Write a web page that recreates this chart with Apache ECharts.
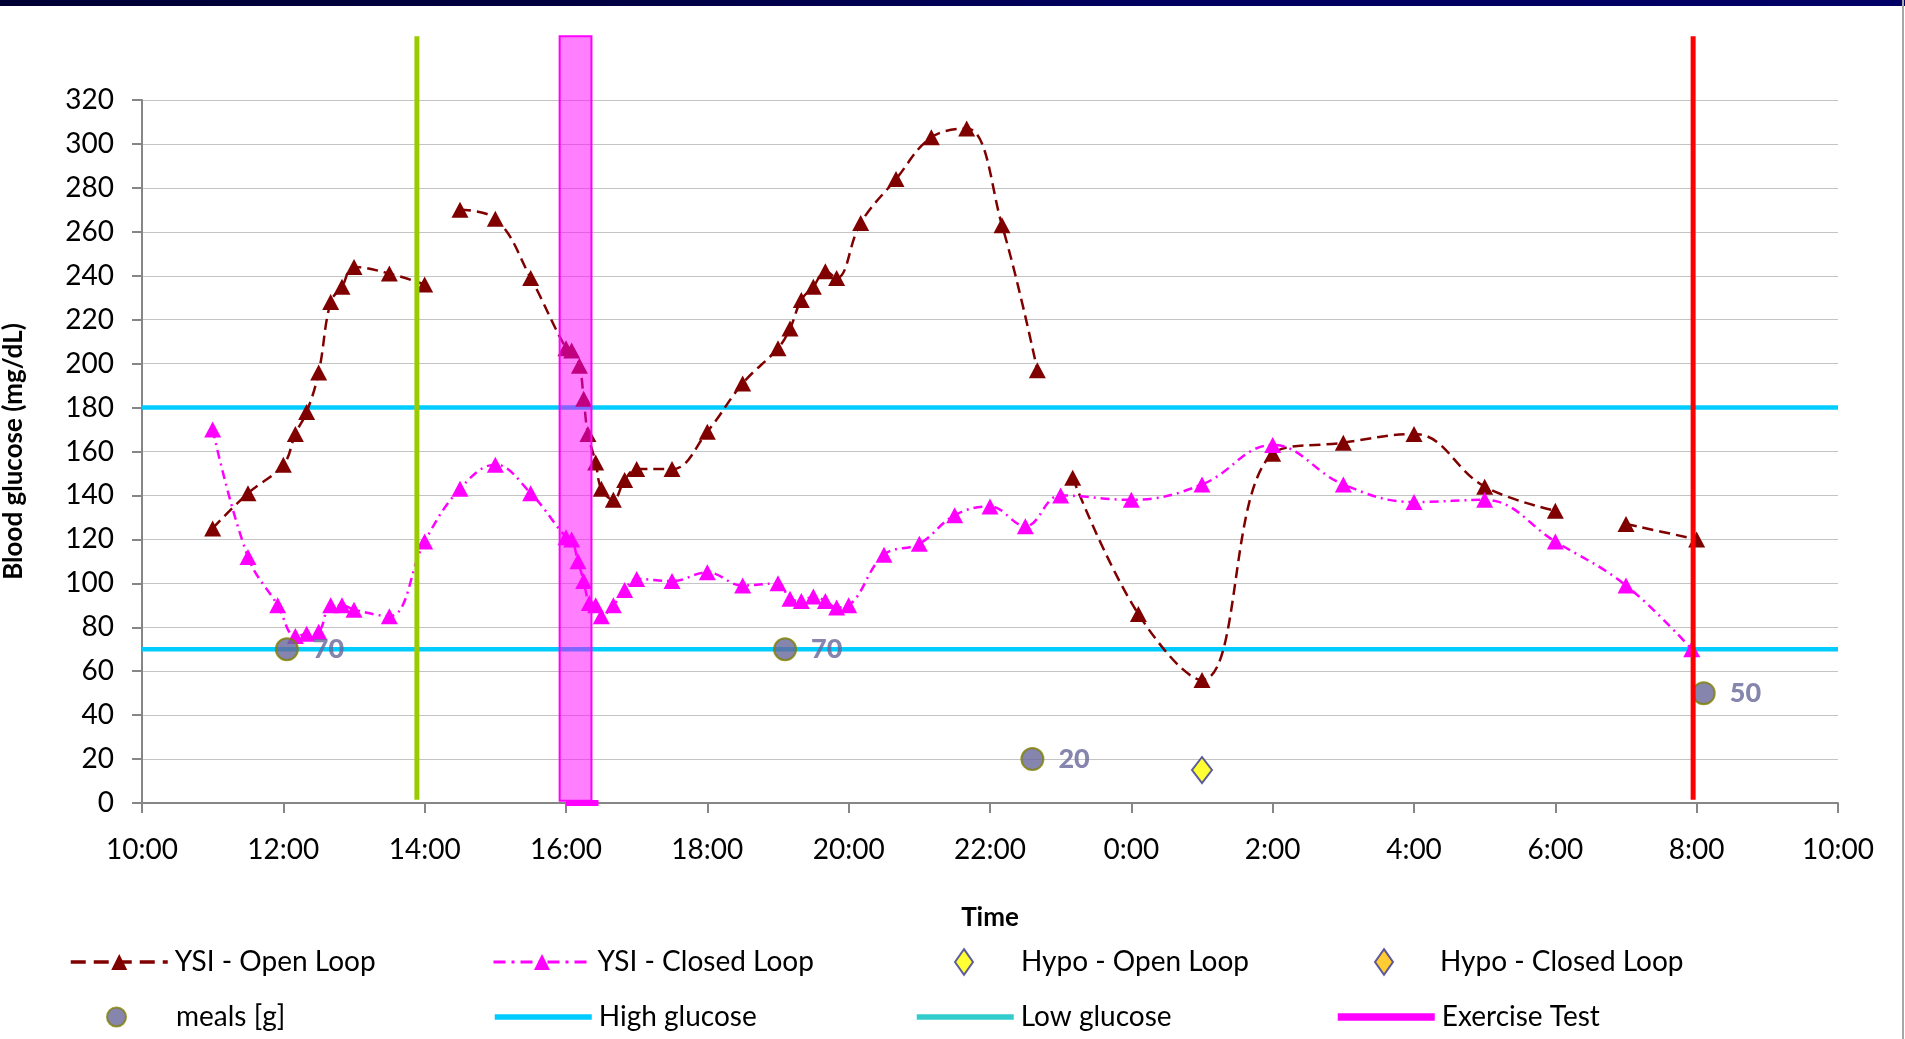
<!DOCTYPE html>
<html>
<head>
<meta charset="utf-8">
<script src="https://cdn.jsdelivr.net/npm/echarts@6/dist/echarts.min.js"></script>
<style>
html,body{margin:0;padding:0;background:#fff;}
#chart{width:1905px;height:1039px;}
</style>
</head>
<body>
<div id="chart"></div>
<script>
// ---- Data (time in hours from 10:00 day 1; 24 = 0:00, 34 = 10:00 next day) ----
const openLoopTimes = [11.0,11.5,12.0,12.17,12.33,12.5,12.67,12.83,13.0,13.5,14.0,14.25,14.5,15.0,15.5,16.0,16.08,16.19,16.25,16.31,16.42,16.5,16.67,16.83,17.0,17.5,18.0,18.5,19.0,19.17,19.33,19.5,19.67,19.83,20.17,20.67,21.17,21.67,22.17,22.67,22.9,23.17,24.1,25.0,26.0,27.0,28.0,29.0,30.0,30.5,31.0,32.0];
const openLoopValues = [125,141,154,168,178,196,228,235,244,241,236,null,270,266,239,207,206,199,184,168,155,143,138,147,152,152,169,191,207,216,229,235,242,239,264,284,303,307,263,197,null,148,86,56,159,164,168,144,133,null,127,120];

const closedLoopTimes = [11.0,11.5,11.92,12.17,12.33,12.5,12.67,12.83,13.0,13.5,14.0,14.5,15.0,15.5,16.0,16.08,16.17,16.25,16.33,16.42,16.5,16.67,16.83,17.0,17.5,18.0,18.5,19.0,19.17,19.33,19.5,19.67,19.83,20.0,20.5,21.0,21.5,22.0,22.5,23.0,24.0,25.0,26.0,27.0,28.0,29.0,30.0,31.0,31.93];
const closedLoopValues = [170,112,90,76,77,78,90,90,88,85,119,143,154,141,121,120,110,101,91,90,85,90,97,102,101,105,99,100,93,92,94,92,89,90,113,118,131,135,126,140,138,145,163,145,137,138,119,99,70];

const mealTimes = [12.05,19.1,22.6,32.1];
const mealGrams = [70,70,20,50];

const hypoOpenTimes = [25.0];
const hypoOpenValues = [15];
const hypoClosedTimes = [];
const hypoClosedValues = [];

const highGlucose = 180;
const lowGlucose = 70;
const axisStart = 10, axisEnd = 34;

const exerciseStart = 15.91, exerciseEnd = 16.36;   // shaded band
const exerciseTestTimes = [16.0, 16.46];               // "Exercise Test" series at 0
const greenMarkerTime = 13.89;
const redMarkerTime = 31.95;
const markerTop = 349;   // vertical markers extend above the plot
const markerBottom = 1.5;

const xTickLabels = ['10:00','12:00','14:00','16:00','18:00','20:00','22:00','0:00','2:00','4:00','6:00','8:00','10:00'];

// ---- helpers ----
const zip = (a, b) => a.map((t, i) => [t, b[i]]);
const FONT = 'Lato, "Liberation Sans", sans-serif';

const chart = echarts.init(document.getElementById('chart'), null, {renderer: 'canvas'});

const diamondIcon = 'path://M7,0 L14,10 L7,20 L0,10 Z';

function legendAt(left, top, item, w, h, padLeft) {
  return {
    left: left, top: top, orient: 'horizontal', padding: 0,
    itemWidth: w, itemHeight: h, itemGap: 10,
    textStyle: {fontSize: 28, fontFamily: FONT, color: '#000', padding: [0, 0, 0, padLeft]},
    selectedMode: false,
    data: [item]
  };
}
const row1 = 948, row2 = 1003;

const option = {
  animation: false,
  backgroundColor: '#ffffff',
  textStyle: {fontFamily: FONT},
  grid: {left: 142, right: 67, top: 100, bottom: 236, containLabel: false, outerBoundsMode: 'none'},
  graphic: [
    {type: 'rect', left: 0, top: 0, z: 100, shape: {width: 1905, height: 6},
     style: {fill: new echarts.graphic.LinearGradient(0, 0, 1, 0, [
       {offset: 0, color: '#000035'}, {offset: 0.3, color: '#000040'}, {offset: 0.6, color: '#000060'}, {offset: 1, color: '#000066'}])}},
    {type: 'rect', left: 1902, top: 0, z: 100, shape: {width: 2, height: 1039}, style: {fill: '#a8a8a8'}}
  ],
  legend: [
    legendAt(69, row1, {name: 'YSI - Open Loop', lineStyle: {width: 3.5, type: [15, 8]}}, 97, 20, 2),
    legendAt(492, row1, {name: 'YSI - Closed Loop', lineStyle: {width: 3, type: [12, 6, 3, 6]}}, 97, 20, 2),
    legendAt(954, row1, {name: 'Hypo - Open Loop', icon: diamondIcon}, 18, 26, 43),
    legendAt(1374, row1, {name: 'Hypo - Closed Loop', icon: diamondIcon}, 18, 26, 42),
    legendAt(106, row2, {name: 'meals [g]', icon: 'circle'}, 19, 19, 45),
    legendAt(492, row2, {name: 'High glucose', lineStyle: {width: 5.5}, itemStyle: {opacity: 0}}, 97, 20, 2),
    legendAt(914, row2, {name: 'Low glucose', itemStyle: {color: '#33CCCC', opacity: 0}, lineStyle: {color: '#33CCCC', width: 5.5}}, 97, 20, 2),
    legendAt(1334, row2, {name: 'Exercise Test', lineStyle: {width: 7.5}, itemStyle: {opacity: 0}}, 97, 20, 2)
  ],
  xAxis: {
    type: 'value', min: axisStart, max: axisEnd, interval: 2,
    name: 'Time', nameLocation: 'middle', nameGap: 102,
    nameTextStyle: {fontSize: 26, fontWeight: 'bold', fontFamily: FONT, color: '#000'},
    axisLine: {show: true, onZero: false, lineStyle: {color: '#868686', width: 2}},
    axisTick: {show: true, length: 10, lineStyle: {color: '#868686', width: 2}},
    axisLabel: {fontSize: 28, fontFamily: FONT, color: '#000', margin: 33,
      formatter: v => xTickLabels[Math.round((v - axisStart) / 2)]},
    splitLine: {show: false}
  },
  yAxis: {
    type: 'value', min: 0, max: 320, interval: 20,
    name: 'Blood glucose (mg/dL)', nameLocation: 'middle', nameGap: 115,
    nameTextStyle: {fontSize: 26, fontWeight: 'bold', fontFamily: FONT, color: '#000'},
    axisLine: {show: true, lineStyle: {color: '#868686', width: 2}},
    axisTick: {show: true, length: 10, lineStyle: {color: '#868686', width: 2}},
    axisLabel: {fontSize: 28, fontFamily: FONT, color: '#000', margin: 28},
    splitLine: {show: true, lineStyle: {color: '#c4c4c4', width: 1.2}}
  },
  series: [
    {name: 'High glucose', type: 'line', z: 3, symbol: 'none', silent: true,
     data: [[axisStart, highGlucose], [axisEnd, highGlucose]],
     lineStyle: {color: '#00CCFF', width: 4.5}, itemStyle: {color: '#00CCFF'}},
    {name: 'Low glucose', type: 'line', z: 3, symbol: 'none', silent: true,
     data: [[axisStart, lowGlucose], [axisEnd, lowGlucose]],
     lineStyle: {color: '#00CCFF', width: 4.5}, itemStyle: {color: '#00CCFF'}},
    {name: 'YSI - Open Loop', type: 'line', z: 5, smooth: 0.4,
     data: zip(openLoopTimes, openLoopValues),
     symbol: 'triangle', symbolSize: [17, 16],
     itemStyle: {color: '#800000'},
     lineStyle: {color: '#800000', width: 2.5, type: [11, 6]}},
    {name: 'YSI - Closed Loop', type: 'line', z: 5, smooth: 0.4,
     data: zip(closedLoopTimes, closedLoopValues),
     symbol: 'triangle', symbolSize: [17, 16],
     itemStyle: {color: '#FF00FF'},
     lineStyle: {color: '#FF00FF', width: 2.5, type: [9, 5, 2, 5]}},
    {name: 'Hypo - Open Loop', type: 'scatter', z: 6,
     data: zip(hypoOpenTimes, hypoOpenValues),
     symbol: 'diamond', symbolSize: [20, 26],
     itemStyle: {color: '#FFFF00', borderColor: '#333399', borderWidth: 2}},
    {name: 'Hypo - Closed Loop', type: 'scatter', z: 6,
     data: zip(hypoClosedTimes, hypoClosedValues),
     symbol: 'diamond', symbolSize: [20, 26],
     itemStyle: {color: '#FFC000', borderColor: '#333399', borderWidth: 2}},
    {name: 'meals [g]', type: 'scatter', z: 6,
     data: zip(mealTimes, mealGrams),
     symbol: 'circle', symbolSize: 22,
     itemStyle: {color: '#666699', borderColor: '#808000', borderWidth: 2},
     label: {show: true, position: 'right', distance: 14, formatter: p => p.value[1],
       fontSize: 27, fontWeight: 900, fontFamily: FONT, color: '#666699'}},
    {name: 'greenMarker', type: 'line', z: 7, symbol: 'none', clip: false, silent: true,
     data: [[greenMarkerTime, markerBottom], [greenMarkerTime, markerTop]],
     lineStyle: {color: '#99CC00', width: 5}},
    {name: 'redMarker', type: 'line', z: 7, symbol: 'none', clip: false, silent: true,
     data: [[redMarkerTime, markerBottom], [redMarkerTime, markerTop]],
     lineStyle: {color: '#FF0000', width: 5}},
    {name: 'Exercise Test', type: 'line', z: 8, symbol: 'none', clip: false, silent: true,
     data: exerciseTestTimes.map(t => [t, 0]),
     itemStyle: {color: '#FF00FF'},
     lineStyle: {color: '#FF00FF', width: 6}},
    {name: 'exerciseBand', type: 'custom', z: 9, silent: true, clip: false,
     data: [[exerciseStart, exerciseEnd, markerTop]],
     encode: {x: [0, 1], y: 2},
     renderItem: function (params, api) {
       const tl = api.coord([api.value(0), api.value(2)]);
       const br = api.coord([api.value(1), 1]);
       return {type: 'rect',
         shape: {x: tl[0], y: tl[1], width: br[0] - tl[0], height: br[1] - tl[1]},
         style: {fill: 'rgba(255,0,255,0.5)', stroke: '#FF00FF', lineWidth: 2}};
     }}
  ]
};
chart.setOption(option);
</script>
</body>
</html>
